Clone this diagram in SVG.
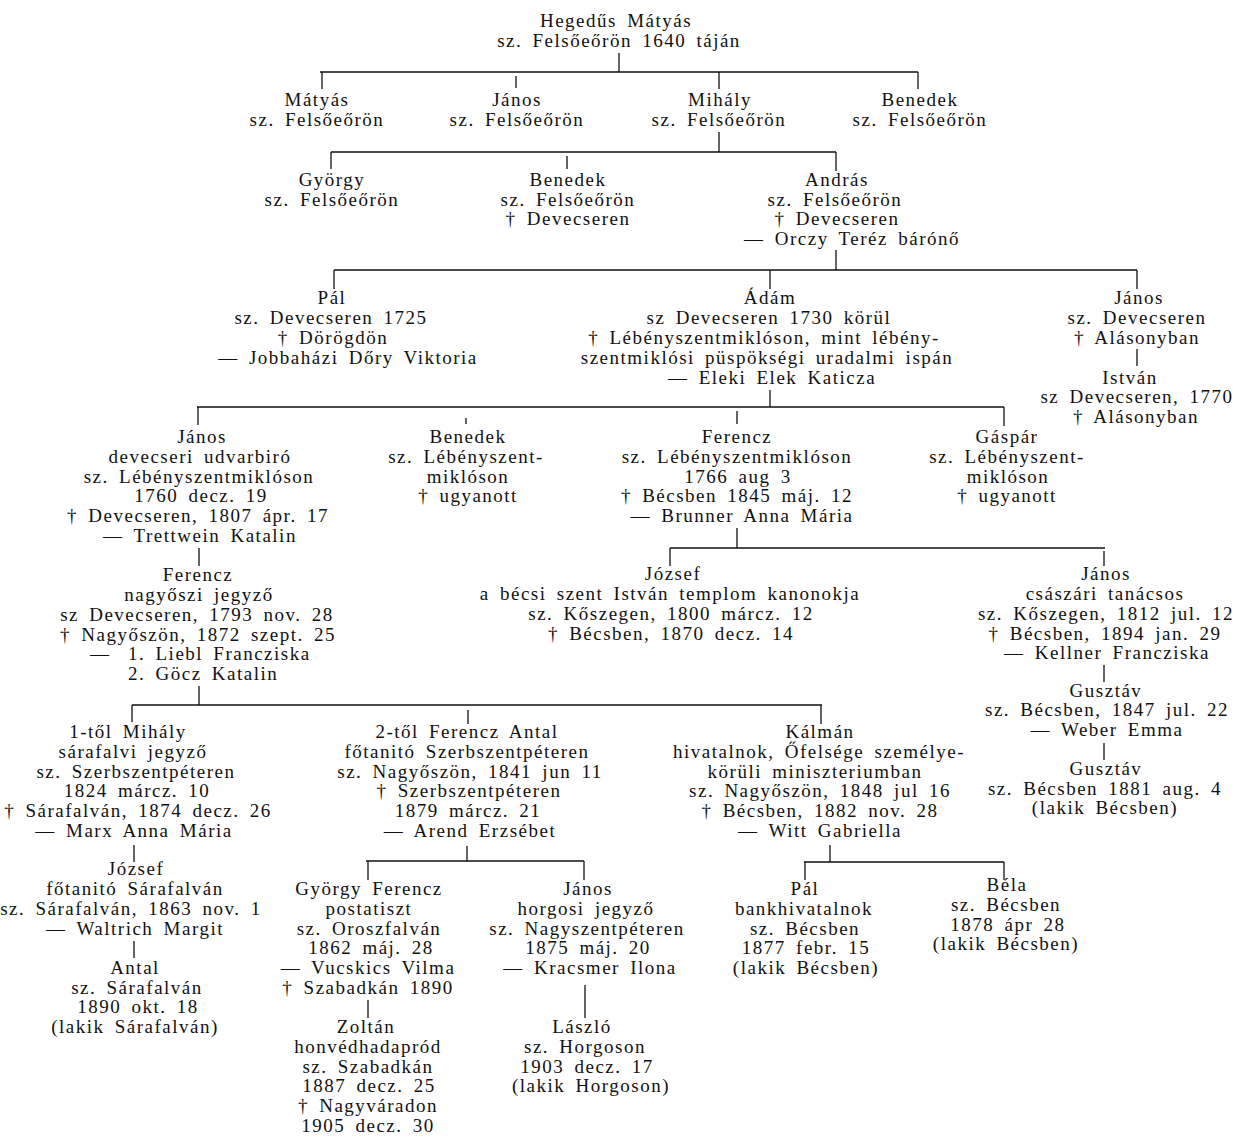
<svg xmlns="http://www.w3.org/2000/svg" width="1234" height="1137" viewBox="0 0 1234 1137">
<style>
text{font-family:"Liberation Serif","DejaVu Serif",serif;font-size:19px;letter-spacing:1.5px;word-spacing:4px;fill:#111;text-anchor:middle}
.l{text-anchor:start}
#connectors line{stroke:#111;stroke-width:1.3}
</style>
<rect width="1234" height="1137" fill="#fff"/>
<g id="connectors">
<line x1="619" y1="53" x2="619" y2="72"/>
<line x1="320" y1="72" x2="918" y2="72"/>
<line x1="322" y1="72" x2="322" y2="89"/>
<line x1="516" y1="76" x2="516" y2="88"/>
<line x1="719" y1="72" x2="719" y2="89"/>
<line x1="918" y1="72" x2="918" y2="89"/>
<line x1="719" y1="132" x2="719" y2="152"/>
<line x1="331" y1="152" x2="836" y2="152"/>
<line x1="331" y1="152" x2="331" y2="169"/>
<line x1="567" y1="156" x2="567" y2="169"/>
<line x1="836" y1="152" x2="836" y2="171"/>
<line x1="836" y1="250" x2="836" y2="270"/>
<line x1="334" y1="270" x2="1137" y2="270"/>
<line x1="334" y1="270" x2="334" y2="289"/>
<line x1="770" y1="270" x2="770" y2="289"/>
<line x1="1137" y1="270" x2="1137" y2="289"/>
<line x1="1137" y1="349" x2="1137" y2="366"/>
<line x1="770" y1="390" x2="770" y2="407"/>
<line x1="197" y1="407" x2="1004" y2="407"/>
<line x1="198" y1="407" x2="198" y2="425"/>
<line x1="466" y1="418" x2="466" y2="424"/>
<line x1="737" y1="411" x2="737" y2="424"/>
<line x1="1004" y1="407" x2="1004" y2="426"/>
<line x1="737" y1="528" x2="737" y2="548"/>
<line x1="670" y1="548" x2="1105" y2="548"/>
<line x1="670" y1="548" x2="670" y2="566"/>
<line x1="1104" y1="551" x2="1104" y2="566"/>
<line x1="199" y1="548" x2="199" y2="566"/>
<line x1="1104" y1="665" x2="1104" y2="682"/>
<line x1="1104" y1="743" x2="1104" y2="760"/>
<line x1="199" y1="686" x2="199" y2="705"/>
<line x1="132" y1="705" x2="822" y2="705"/>
<line x1="132" y1="705" x2="132" y2="722"/>
<line x1="468" y1="710" x2="468" y2="724"/>
<line x1="821" y1="705" x2="821" y2="724"/>
<line x1="134" y1="845" x2="134" y2="862"/>
<line x1="134" y1="941" x2="134" y2="958"/>
<line x1="467" y1="846" x2="467" y2="861"/>
<line x1="366" y1="861" x2="584" y2="861"/>
<line x1="368" y1="861" x2="368" y2="880"/>
<line x1="584" y1="861" x2="584" y2="880"/>
<line x1="368" y1="1000" x2="368" y2="1018"/>
<line x1="585" y1="985" x2="585" y2="1018"/>
<line x1="830" y1="845" x2="830" y2="862"/>
<line x1="804" y1="862" x2="1004" y2="862"/>
<line x1="805" y1="862" x2="805" y2="880"/>
<line x1="1004" y1="862" x2="1004" y2="880"/>
</g>
<g id="n-hegedus-matyas"><text x="616" y="27">Hegedűs Mátyás</text><text x="619" y="47">sz. Felsőeőrön 1640 táján</text></g>
<g id="n-matyas"><text x="317" y="106">Mátyás</text><text x="317" y="126">sz. Felsőeőrön</text></g>
<g id="n-janos1"><text x="517" y="106">János</text><text x="517" y="126">sz. Felsőeőrön</text></g>
<g id="n-mihaly"><text x="720" y="106">Mihály</text><text x="719" y="126">sz. Felsőeőrön</text></g>
<g id="n-benedek1"><text x="920" y="106">Benedek</text><text x="920" y="126">sz. Felsőeőrön</text></g>
<g id="n-gyorgy"><text x="332" y="186">György</text><text x="332" y="206">sz. Felsőeőrön</text></g>
<g id="n-benedek2"><text x="568" y="186">Benedek</text><text x="568" y="206">sz. Felsőeőrön</text><text x="568" y="225">† Devecseren</text></g>
<g id="n-andras"><text x="837" y="186">András</text><text x="835" y="206">sz. Felsőeőrön</text><text x="837" y="225">† Devecseren</text><text x="852" y="245">— Orczy Teréz bárónő</text></g>
<g id="n-pal1"><text x="332" y="304">Pál</text><text x="331" y="324">sz. Devecseren 1725</text><text x="333" y="344">† Dörögdön</text><text x="348" y="364">— Jobbaházi Dőry Viktoria</text></g>
<g id="n-adam"><text x="770" y="304">Ádám</text><text x="769" y="324">sz  Devecseren 1730 körül</text><text x="764" y="344">† Lébényszentmiklóson, mint lébény-</text><text x="767" y="364">szentmiklósi püspökségi uradalmi ispán</text><text x="772" y="384">— Eleki Elek Katicza</text></g>
<g id="n-janos2"><text x="1139" y="304">János</text><text x="1137" y="324">sz. Devecseren</text><text x="1137" y="344">† Alásonyban</text></g>
<g id="n-istvan"><text x="1130" y="384">István</text><text x="1137" y="403">sz  Devecseren, 1770</text><text x="1136" y="423">† Alásonyban</text></g>
<g id="n-janos3"><text x="202" y="443">János</text><text x="200" y="463">devecseri udvarbiró</text><text x="199" y="483">sz. Lébényszentmiklóson</text><text x="201" y="502">1760 decz. 19</text><text x="198" y="522">† Devecseren, 1807 ápr. 17</text><text x="200" y="542">— Trettwein Katalin</text></g>
<g id="n-benedek3"><text x="468" y="443">Benedek</text><text x="466" y="463">sz. Lébényszent-</text><text x="468" y="483">miklóson</text><text x="468" y="502">† ugyanott</text></g>
<g id="n-ferencz1"><text x="737" y="443">Ferencz</text><text x="737" y="463">sz. Lébényszentmiklóson</text><text x="738" y="483">1766 aug  3</text><text x="737" y="502">† Bécsben 1845 máj. 12</text><text x="742" y="522">— Brunner Anna Mária</text></g>
<g id="n-gaspar"><text x="1007" y="443">Gáspár</text><text x="1007" y="463">sz. Lébényszent-</text><text x="1008" y="483">miklóson</text><text x="1007" y="502">† ugyanott</text></g>
<g id="n-ferencz2"><text x="198" y="581">Ferencz</text><text x="199" y="601">nagyőszi jegyző</text><text x="197" y="621">sz  Devecseren, 1793 nov. 28</text><text x="198" y="641">† Nagyőszön, 1872 szept. 25</text><text class="l" y="660"><tspan x="90">—</tspan><tspan x="128">1. Liebl Francziska</tspan></text><text class="l" x="128" y="680">2. Göcz Katalin</text></g>
<g id="n-jozsef1"><text x="673" y="580">József</text><text x="670" y="600">a bécsi szent István templom kanonokja</text><text x="671" y="620">sz. Kőszegen, 1800 márcz. 12</text><text x="671" y="640">† Bécsben, 1870 decz. 14</text></g>
<g id="n-janos4"><text x="1106" y="580">János</text><text x="1105" y="600">császári tanácsos</text><text x="1106" y="620">sz. Kőszegen, 1812 jul. 12</text><text x="1105" y="640">† Bécsben, 1894 jan. 29</text><text x="1107" y="659">— Kellner Francziska</text></g>
<g id="n-gusztav1"><text x="1106" y="697">Gusztáv</text><text x="1107" y="716">sz. Bécsben, 1847 jul. 22</text><text x="1107" y="736">— Weber Emma</text></g>
<g id="n-gusztav2"><text x="1106" y="775">Gusztáv</text><text x="1105" y="795">sz. Bécsben 1881 aug. 4</text><text x="1105" y="814">(lakik Bécsben)</text></g>
<g id="n-mihaly2"><text x="128" y="738">1-től Mihály</text><text x="133" y="758">sárafalvi jegyző</text><text x="136" y="778">sz. Szerbszentpéteren</text><text x="137" y="797">1824 márcz. 10</text><text x="138" y="817">† Sárafalván, 1874 decz. 26</text><text x="134" y="837">— Marx Anna Mária</text></g>
<g id="n-ferencz-antal"><text x="467" y="738">2-től Ferencz Antal</text><text x="467" y="758">főtanitó Szerbszentpéteren</text><text x="470" y="778">sz. Nagyőszön, 1841 jun  11</text><text x="469" y="797">† Szerbszentpéteren</text><text x="468" y="817">1879 márcz. 21</text><text x="470" y="837">— Arend Erzsébet</text></g>
<g id="n-kalman"><text x="820" y="738">Kálmán</text><text x="819" y="758">hivatalnok, Őfelsége személye-</text><text x="815" y="778">körüli miniszteriumban</text><text x="820" y="797">sz. Nagyőszön, 1848 jul  16</text><text x="820" y="817">† Bécsben, 1882 nov. 28</text><text x="820" y="837">— Witt Gabriella</text></g>
<g id="n-jozsef2"><text x="136" y="875">József</text><text x="135" y="895">főtanitó Sárafalván</text><text x="131" y="915">sz. Sárafalván, 1863 nov. 1</text><text x="135" y="935">— Waltrich Margit</text></g>
<g id="n-antal"><text x="135" y="974">Antal</text><text x="137" y="994">sz. Sárafalván</text><text x="138" y="1013">1890 okt. 18</text><text x="135" y="1033">(lakik Sárafalván)</text></g>
<g id="n-gyorgy-ferencz"><text x="369" y="895">György Ferencz</text><text x="369" y="915">postatiszt</text><text x="369" y="935">sz. Oroszfalván</text><text x="371" y="954">1862 máj. 28</text><text x="368" y="974">— Vucskics Vilma</text><text x="368" y="994">† Szabadkán 1890</text></g>
<g id="n-zoltan"><text x="366" y="1033">Zoltán</text><text x="368" y="1053">honvédhadapród</text><text x="368" y="1073">sz. Szabadkán</text><text x="369" y="1092">1887 decz. 25</text><text x="368" y="1112">† Nagyváradon</text><text x="368" y="1132">1905 decz. 30</text></g>
<g id="n-janos5"><text x="588" y="895">János</text><text x="586" y="915">horgosi jegyző</text><text x="587" y="935">sz. Nagyszentpéteren</text><text x="588" y="954">1875 máj. 20</text><text x="590" y="974">— Kracsmer Ilona</text></g>
<g id="n-laszlo"><text x="582" y="1033">László</text><text x="585" y="1053">sz. Horgoson</text><text x="587" y="1073">1903 decz. 17</text><text x="591" y="1092">(lakik Horgoson)</text></g>
<g id="n-pal2"><text x="805" y="895">Pál</text><text x="804" y="915">bankhivatalnok</text><text x="805" y="935">sz. Bécsben</text><text x="806" y="954">1877 febr. 15</text><text x="806" y="974">(lakik Bécsben)</text></g>
<g id="n-bela"><text x="1007" y="891">Béla</text><text x="1006" y="911">sz. Bécsben</text><text x="1008" y="931">1878 ápr  28</text><text x="1006" y="950">(lakik Bécsben)</text></g>
</svg>
